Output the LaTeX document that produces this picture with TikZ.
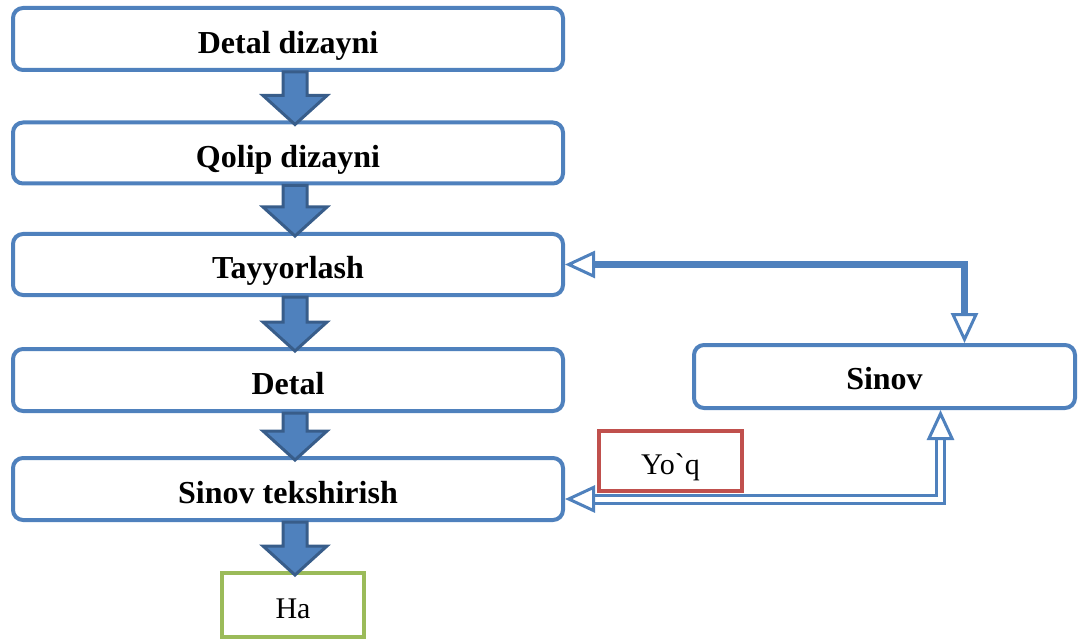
\documentclass[tikz,border=0pt]{standalone}
\usepackage{fontspec}
\setmainfont{Liberation Serif}
\newfontfamily\plainserif{Liberation Serif}[Ligatures=TeXOff]
\usetikzlibrary{calc,arrows.meta}
\definecolor{boxblue}{HTML}{4F81BD}
\definecolor{arrowedge}{HTML}{385D8A}
\definecolor{nobox}{HTML}{C0504D}
\definecolor{yesbox}{HTML}{9BBB59}
\newcommand\blockarrow[2]{%
  \draw[blockarr] let \p1=(#1.south), \p2=(#2.north) in
    (\x1-5pt,\y1) -- (\x1-5pt,\y2+25pt) -- (\x1-25pt,\y2+25pt) --
    (\x1+7pt,\y2-4pt) -- (\x1+39pt,\y2+25pt) -- (\x1+19pt,\y2+25pt) --
    (\x1+19pt,\y1) -- cycle;}
\begin{document}
\begin{tikzpicture}[x=1pt,y=-1pt,
  stepbox/.style={draw=boxblue, line width=4pt, rounded corners=10pt, fill=white,
    minimum width=550pt, minimum height=62pt, inner sep=0pt,
    text height=29pt, text depth=0pt, font=\fontsize{32}{36}\selectfont\bfseries},
  answerbox/.style={line width=4pt, fill=white, inner sep=0pt,
    minimum width=143pt, minimum height=60pt,
    text height=26pt, text depth=0pt, font=\fontsize{30}{36}\selectfont\plainserif},
  blockarr/.style={draw=arrowedge, fill=boxblue, line width=3pt, line join=miter},
  loopline/.style={draw=boxblue, line width=7pt, {Triangle[length=30pt, width=27pt, line width=3pt, fill=white]}-{Triangle[length=30pt, width=27pt, line width=3pt, fill=white]}},
  backline/.style={draw=boxblue, line width=3pt, double=white, double distance=5pt, {Triangle[length=30pt, width=27pt, line width=3pt, fill=white]}-{Triangle[length=30pt, width=27pt, line width=3pt, fill=white]}}
]
\useasboundingbox (0,0) rectangle (1082,639);

\node[stepbox] (b1) at (288,39) {Detal dizayni};
\node[stepbox, minimum height=61pt] (b2) at (288,153) {Qolip dizayni};
\node[stepbox, minimum height=61pt] (b3) at (288,264.5) {Tayyorlash};
\node[stepbox] (b4) at (288,380) {Detal};
\node[stepbox] (b5) at (288,489) {Sinov tekshirish};
\node[stepbox, minimum width=381pt, minimum height=63pt, text height=26pt] (sinov) at (884.5,376.5) {Sinov};
\node[answerbox, draw=nobox] (yoq) at (670.5,461) {Yo`q};
\node[answerbox, draw=yesbox, minimum width=142pt, minimum height=64pt] (ha) at (293,605) {Ha};

\blockarrow{b1}{b2}
\blockarrow{b2}{b3}
\blockarrow{b3}{b4}
\blockarrow{b4}{b5}
\blockarrow{b5}{ha}

\draw[loopline] (b3.east) -| ($(sinov.north)+(80,0)$);
\draw[backline] ($(sinov.south)+(56,0)$) |- ($(b5.east)+(0,10)$);
\end{tikzpicture}
\end{document}
